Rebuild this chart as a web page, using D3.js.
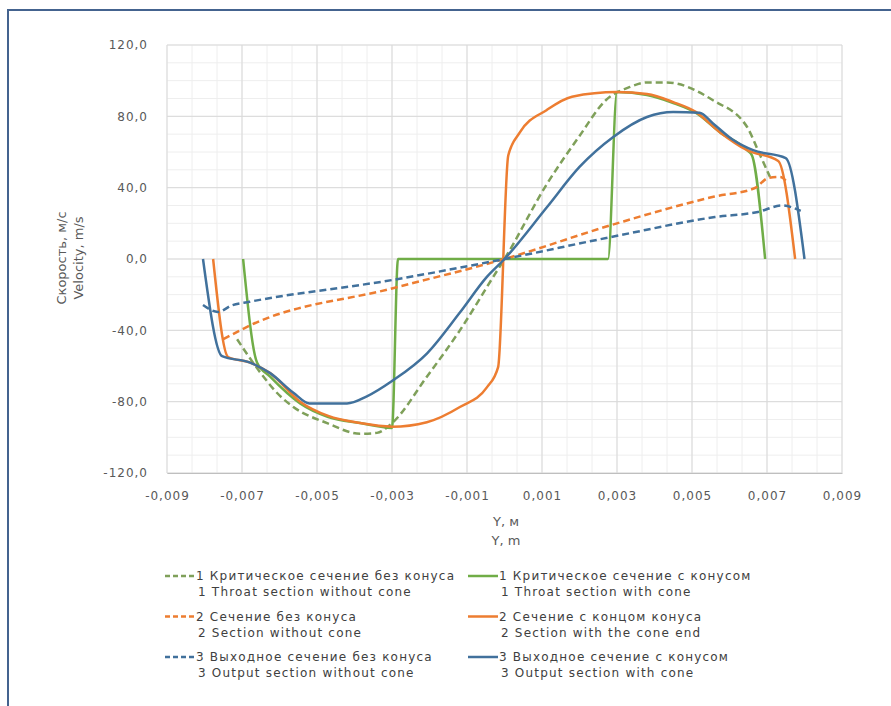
<!DOCTYPE html>
<html>
<head>
<meta charset="utf-8">
<script src="https://cdn.jsdelivr.net/npm/d3@7"></script>
<style>
  body { margin: 0; background: #fff; }
  svg text { font-family: "DejaVu Sans", "Liberation Sans", Arial, sans-serif; }
</style>
</head>
<body>
<div id="chart"></div>
<script>
// ---- data (Y in m, velocity in m/s) ----
var critNoConeY = [-0.00713, -0.0065, -0.00607, -0.00563, -0.00473, -0.00385, -0.0034, -0.003, -0.00207, -0.00119, -0.0003, 0, 0.00113, 0.002, 0.0027, 0.00335, 0.0038, 0.00433, 0.00556, 0.00647, 0.0068, 0.00708]
var critNoConeV = [-45, -64, -75, -83, -92, -98, -97.5, -92, -66, -40, -10, 0, 42, 69, 89, 96.5, 99, 99, 89, 74, 59, 46]

var critConeY = [-0.00697, -0.0066, -0.00625, -0.00545, -0.0047, -0.00385, -0.003, -0.00284, 0.00276, 0.003, 0.0038, 0.0045, 0.0051, 0.00575, 0.00647, 0.0066, 0.00695]
var critConeV = [0, -58, -66, -81, -88.6, -92, -94.7, 0, 0, 93.6, 92, 87.5, 82, 71, 61, 58, 0]

var sectNoConeY = [-0.0075, -0.00705, -0.0068, -0.003, 0, 0.003, 0.0056, 0.00668, 0.00703, 0.00735, 0.0075]
var sectNoConeV = [-45, -40, -37.4, -16.5, 0, 20, 35, 39.8, 45.4, 46, 44]

var sectConeY = [-0.00777, -0.00737, -0.0068, -0.00625, -0.00545, -0.0047, -0.00385, -0.003, -0.00207, -0.00119, -0.00047, -0.00017, 0.0001, 0.0004, 0.00113, 0.0018, 0.003, 0.0038, 0.0045, 0.0051, 0.00575, 0.00647, 0.0073, 0.00775]
var sectConeV = [0, -55, -58, -64, -80, -88, -92, -94, -91.5, -83, -72, -60.6, 58, 70.7, 83.6, 91, 93.6, 92.5, 88, 82.5, 71, 61, 55, 0]

var outNoConeY = [-0.00804, -0.00764, -0.00727, -0.0068, -0.003, 0, 0.003, 0.00561, 0.00676, 0.0074, 0.0079]
var outNoConeV = [-25.8, -29.7, -26, -24, -11.8, 0, 13, 23.5, 26.4, 30, 27]

var outConeY = [-0.00804, -0.00753, -0.0068, -0.00625, -0.00563, -0.0052, -0.0047, -0.0042, -0.00367, -0.00297, -0.00207, -0.00119, -0.00047, 0, 0.00113, 0.002, 0.0029, 0.0038, 0.0045, 0.0052, 0.00556, 0.0061, 0.00663, 0.0075, 0.008]
var outConeV = [0, -54.5, -58, -64, -75, -81, -81, -81, -77, -68, -53, -30, -10, 0, 29, 51.6, 68.4, 79.6, 82.4, 82, 76, 66.7, 61, 56.6, 0]

var xTicks = [-0.009, -0.007, -0.005, -0.003, -0.001, 0.001, 0.003, 0.005, 0.007, 0.009]
var yTicks = [-120, -80, -40, 0, 40, 80, 120]

var series = [
  {ru: "1 Критическое сечение без конуса", en: "1 Throat section without cone", x: critNoConeY, y: critNoConeV, color: "#7fa05a", dash: true},
  {ru: "1 Критическое сечение с конусом", en: "1 Throat section with cone", x: critConeY, y: critConeV, color: "#70ad47", dash: false},
  {ru: "2 Сечение без конуса", en: "2 Section without cone", x: sectNoConeY, y: sectNoConeV, color: "#ed7d31", dash: true},
  {ru: "2 Сечение с концом конуса", en: "2 Section with the cone end", x: sectConeY, y: sectConeV, color: "#ed7d31", dash: false},
  {ru: "3 Выходное сечение без конуса", en: "3 Output section without cone", x: outNoConeY, y: outNoConeV, color: "#41719c", dash: true},
  {ru: "3 Выходное сечение с конусом", en: "3 Output section with cone", x: outConeY, y: outConeV, color: "#41719c", dash: false}
]

var width = 891, height = 706
var plotLeft = 167, plotRight = 842, plotTop = 45, plotBottom = 473

var svg = d3.select("#chart").append("svg")
  .attr("width", width)
  .attr("height", height)

// frame
svg.append("path")
  .attr("d", "M8,706 L8,10 L891,10")
  .attr("fill", "none")
  .attr("stroke", "#44638f")
  .attr("stroke-width", 2)

var x = d3.scaleLinear().domain([-0.009, 0.009]).range([plotLeft, plotRight])
var y = d3.scaleLinear().domain([-120, 120]).range([plotBottom, plotTop])

// minor grid
var xMinor = d3.range(0, 28).map(function(i){ return -0.009 + i * 0.002 / 3 })
var yMinor = d3.range(-120, 121, 10)
svg.append("g").selectAll("line").data(xMinor).enter().append("line")
  .attr("x1", d => x(d)).attr("x2", d => x(d))
  .attr("y1", plotTop).attr("y2", plotBottom)
  .attr("stroke", "#eeeeee").attr("stroke-width", 1)
svg.append("g").selectAll("line").data(yMinor).enter().append("line")
  .attr("x1", plotLeft).attr("x2", plotRight)
  .attr("y1", d => y(d)).attr("y2", d => y(d))
  .attr("stroke", "#eeeeee").attr("stroke-width", 1)

// major grid
svg.append("g").selectAll("line").data(xTicks).enter().append("line")
  .attr("x1", d => x(d)).attr("x2", d => x(d))
  .attr("y1", plotTop).attr("y2", plotBottom)
  .attr("stroke", "#d9d9d9").attr("stroke-width", 1)
svg.append("g").selectAll("line").data(yTicks).enter().append("line")
  .attr("x1", plotLeft).attr("x2", plotRight)
  .attr("y1", d => y(d)).attr("y2", d => y(d))
  .attr("stroke", "#d9d9d9").attr("stroke-width", 1)

// axes (labels only, Excel style)
var fmtX = d => d3.format(".3f")(d).replace(".", ",").replace("−", "-")
var fmtY = d => d3.format(".1f")(d).replace(".", ",").replace("−", "-")

var xAxis = svg.append("g")
  .attr("transform", "translate(0," + plotBottom + ")")
  .call(d3.axisBottom(x).tickValues(xTicks).tickFormat(fmtX).tickSize(0).tickPadding(18))
xAxis.select(".domain").attr("stroke", "#bfbfbf")
xAxis.selectAll("text").attr("fill", "#595959").style("font-size", "12px").style("letter-spacing", "1px")

var yAxis = svg.append("g")
  .attr("transform", "translate(" + (plotLeft - 1) + ",0)")
  .call(d3.axisLeft(y).tickValues(yTicks).tickFormat(fmtY).tickSize(0).tickPadding(18))
yAxis.select(".domain").remove()
yAxis.selectAll("text").attr("fill", "#595959").style("font-size", "12px").style("letter-spacing", "1px")

// axis titles
svg.append("text")
  .attr("transform", "translate(61,258) rotate(-90)")
  .attr("text-anchor", "middle").attr("dy", "0.35em")
  .attr("fill", "#595959").style("font-size", "13px")
  .text("Скорость, м/с")
svg.append("text")
  .attr("transform", "translate(78,258) rotate(-90)")
  .attr("text-anchor", "middle").attr("dy", "0.35em")
  .attr("fill", "#595959").style("font-size", "13px")
  .text("Velocity, m/s")
svg.append("text")
  .attr("x", 506).attr("y", 521).attr("dy", "0.35em")
  .attr("text-anchor", "middle")
  .attr("fill", "#595959").style("font-size", "13px")
  .text("Y, м")
svg.append("text")
  .attr("x", 506).attr("y", 540).attr("dy", "0.35em")
  .attr("text-anchor", "middle")
  .attr("fill", "#595959").style("font-size", "13px")
  .text("Y, m")

// lines (smoothed, x is increasing in every series)
var line = d3.line()
  .x(d => x(d[0]))
  .y(d => y(d[1]))
  .curve(d3.curveMonotoneX)

svg.append("g").selectAll("path")
  .data(series)
  .enter()
  .append("path")
  .attr("d", s => line(s.x.map((v, i) => [v, s.y[i]])))
  .attr("fill", "none")
  .attr("stroke", s => s.color)
  .attr("stroke-width", 2.5)
  .attr("stroke-linejoin", "round")
  .attr("stroke-dasharray", s => s.dash ? "7,4" : null)

// legend: dashed in left column, solid in right column
var leg = svg.append("g").selectAll("g")
  .data(series)
  .enter()
  .append("g")
  .attr("transform", (d, i) => "translate(" + (i % 2 ? 468 : 165) + "," + (576 + Math.floor(i / 2) * 40.5) + ")")

leg.append("line")
  .attr("x1", 0).attr("x2", 30)
  .attr("stroke", d => d.color)
  .attr("stroke-width", 2.5)
  .attr("stroke-dasharray", d => d.dash ? "5,3" : null)

leg.append("text")
  .attr("x", 31).attr("dy", "0.35em")
  .attr("fill", "#404040").style("font-size", "12px").style("letter-spacing", "1.2px")
  .text(d => d.ru)
leg.append("text")
  .attr("x", 33).attr("y", 16).attr("dy", "0.35em")
  .attr("fill", "#404040").style("font-size", "12px").style("letter-spacing", "1.2px")
  .text(d => d.en)
</script>
</body>
</html>
